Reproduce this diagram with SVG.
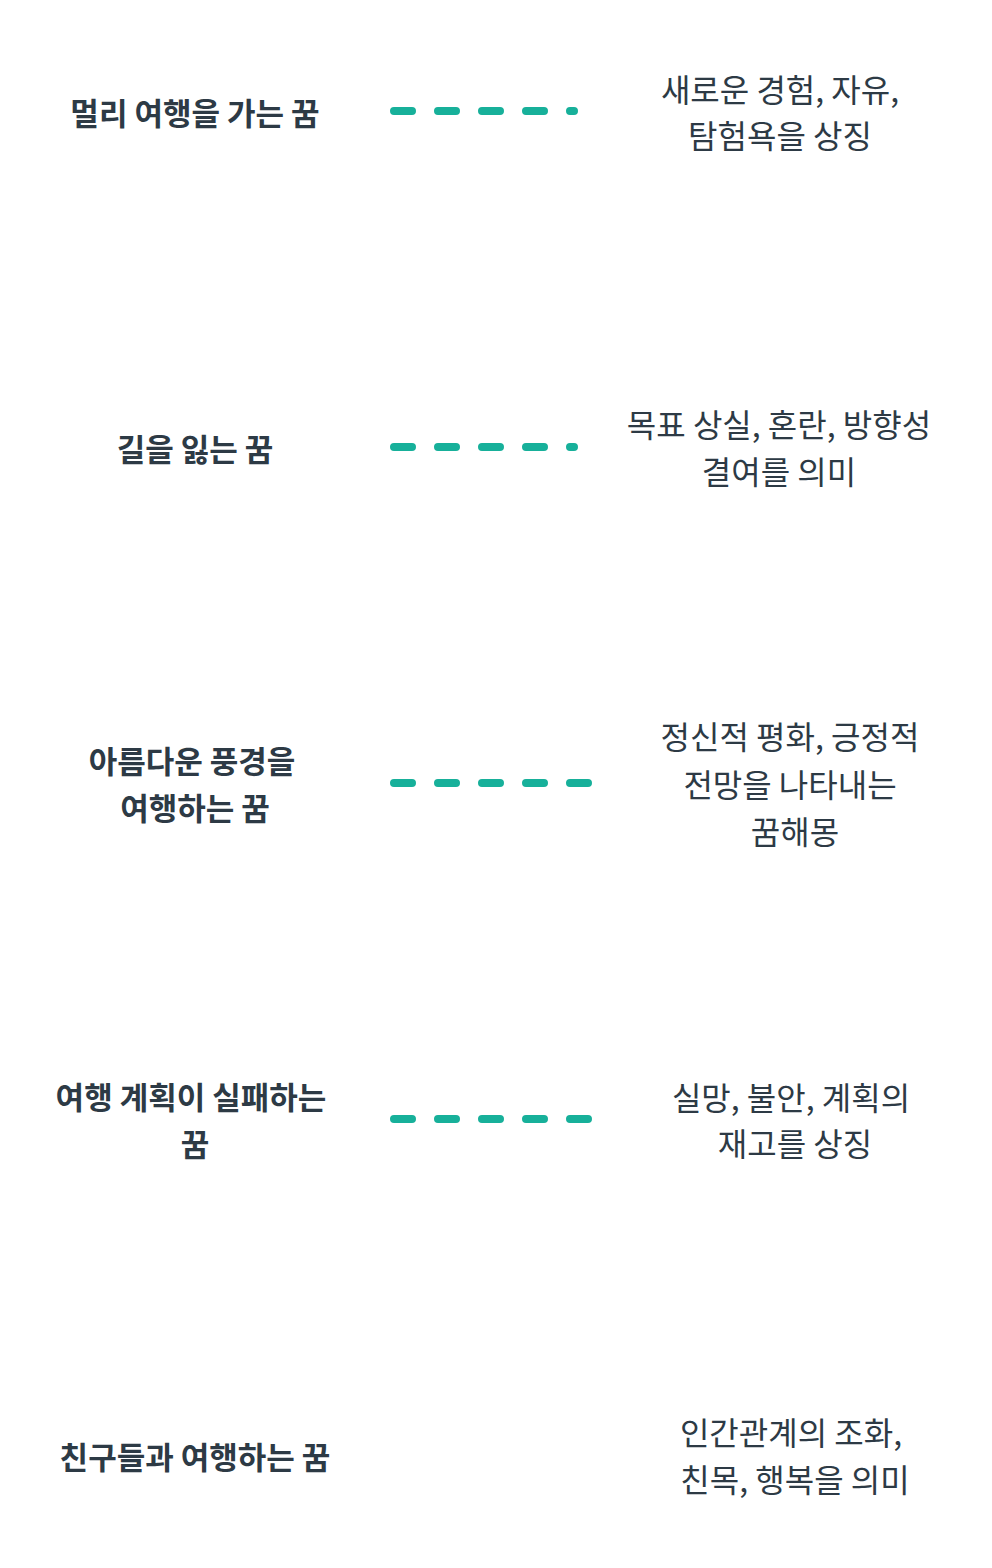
<svg xmlns="http://www.w3.org/2000/svg" width="992" height="1568" viewBox="0 0 992 1568">
<style>
.l{font-family:"Noto Sans CJK KR","Noto Sans",sans-serif;font-weight:700;font-size:31px;fill:#2d3a45;text-anchor:middle;dominant-baseline:central}
.r{font-family:"Noto Sans CJK KR","Noto Sans",sans-serif;font-weight:400;font-size:32px;fill:#2d3a45;text-anchor:middle;dominant-baseline:central}
.c{stroke:#17b09a;stroke-width:8;stroke-linecap:round;stroke-dasharray:18 26;fill:none}
</style>
<rect width="992" height="1568" fill="#fff"/>
<g id="connectors">
<line class="c" x1="394" y1="111" x2="574" y2="111"/>
<line class="c" x1="394" y1="447" x2="574" y2="447"/>
<line class="c" x1="394" y1="783" x2="591" y2="783"/>
<line class="c" x1="394" y1="1119" x2="591" y2="1119"/>
</g>
<g id="n1"><text class="l" x="195" y="111">멀리 여행을 가는 꿈</text></g>
<g id="d1"><text class="r" x="780" y="88">새로운 경험, 자유,</text><text class="r" x="780" y="134">탐험욕을 상징</text></g>
<g id="n2"><text class="l" x="195" y="447">길을 잃는 꿈</text></g>
<g id="d2"><text class="r" x="779" y="423">목표 상실, 혼란, 방향성</text><text class="r" x="779" y="470">결여를 의미</text></g>
<g id="n3"><text class="l" x="192" y="759">아름다운 풍경을</text><text class="l" x="195" y="806">여행하는 꿈</text></g>
<g id="d3"><text class="r" x="790" y="735">정신적 평화, 긍정적</text><text class="r" x="790" y="783">전망을 나타내는</text><text class="r" x="795" y="830">꿈해몽</text></g>
<g id="n4"><text class="l" x="191" y="1095">여행 계획이 실패하는</text><text class="l" x="195" y="1142">꿈</text></g>
<g id="d4"><text class="r" x="791" y="1096">실망, 불안, 계획의</text><text class="r" x="795" y="1142">재고를 상징</text></g>
<g id="n5"><text class="l" x="195" y="1455">친구들과 여행하는 꿈</text></g>
<g id="d5"><text class="r" x="791" y="1431">인간관계의 조화,</text><text class="r" x="795" y="1478">친목, 행복을 의미</text></g>
</svg>
